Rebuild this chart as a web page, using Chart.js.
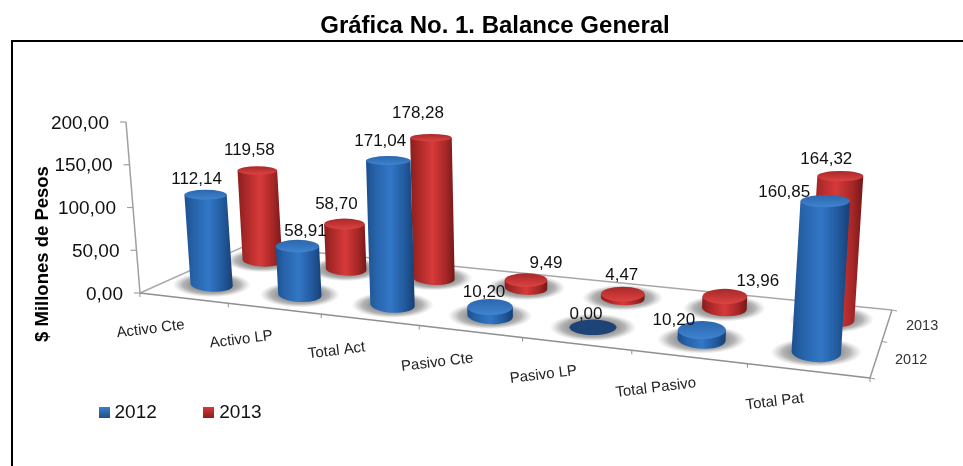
<!DOCTYPE html>
<html><head><meta charset="utf-8">
<style>html,body{margin:0;padding:0;background:#fff}#w{width:963px;height:466px}</style>
<script src="https://cdn.jsdelivr.net/npm/chart.js@4/dist/chart.umd.js"></script>
</head><body><div id="w"><canvas id="c" width="963" height="466"></canvas></div>
<script>
const CATEGORIES = ['Activo Cte','Activo LP','Total Act','Pasivo Cte','Pasivo LP','Total Pasivo','Total Pat'];
const SERIES_NAMES = ['2012','2013'];
const VALUES_2012 = [112.14,58.91,171.04,10.20,0.00,10.20,160.85];
const VALUES_2013 = [119.58,58.70,178.28,9.49,4.47,13.96,164.32];
const Y_TITLE = '$ Millones de Pesos';
const TITLE = 'Gráfica No. 1. Balance General';

// depth position of each series on the floor (0 front, 1 back)
const DEPTH = [0.25,0.75];
// floor quad: front-left, front-right, back-right, back-left
const Q = [[140,293],[870,378],[892,310],[246,245.6]];
const AXIS_TOP = [126,122];
const VP = [535,5100];
const BAR_SCALE = 164;
const RADIUS = 21.6;
// label nudges from the top of each cylinder
const NUDGE_2012 = [[-9,-15],[8,-15],[-8,-19],[-6,-15],[-7,-13],[-28,-10],[-41,-9]];
const NUDGE_2013 = [[-8,-20],[-8,-20],[-13,-24],[20,-17],[-1,-19],[33,-15],[-14,-17]];

const fmt = v => v.toFixed(2).replace('.',',');
const FONT = "'Liberation Sans', Arial, sans-serif";
Chart.defaults.font.family = FONT;

const H = (() => {
  const [p0,p1,p2,p3] = Q;
  const dx1=p1[0]-p2[0], dx2=p3[0]-p2[0], sx=p0[0]-p1[0]+p2[0]-p3[0];
  const dy1=p1[1]-p2[1], dy2=p3[1]-p2[1], sy=p0[1]-p1[1]+p2[1]-p3[1];
  const det=dx1*dy2-dx2*dy1;
  const g=(sx*dy2-dx2*sy)/det, h=(dx1*sy-sx*dy1)/det;
  return {g,h,a:p1[0]-p0[0]+g*p1[0],b:p3[0]-p0[0]+h*p3[0],c:p0[0],d:p1[1]-p0[1]+g*p1[1],e:p3[1]-p0[1]+h*p3[1],f:p0[1]};
})();
function floorPt(u,v){
  const w=H.g*u+H.h*v+1;
  return {x:(H.a*u+H.b*v+H.c)/w,y:(H.d*u+H.e*v+H.f)/w,w};
}
function line(ctx,a,b,col,lw){ctx.strokeStyle=col;ctx.lineWidth=lw;ctx.beginPath();ctx.moveTo(a.x,a.y);ctx.lineTo(b.x,b.y);ctx.stroke();}
function text(ctx,s,x,y,font,col,align,rot){
  ctx.save();ctx.translate(x,y);if(rot)ctx.rotate(rot);ctx.font=font;ctx.fillStyle=col;ctx.textAlign=align||'center';ctx.textBaseline='middle';ctx.fillText(s,0,0);ctx.restore();
}
const PAL = [
 {side:[[0,'#1b4f8e'],[.18,'#2662a8'],[.5,'#3277c6'],[.8,'#21599c'],[1,'#173f73']],top:['#2b67ad','#3f83cf'],flat:'#1e4477'},
 {side:[[0,'#8a1e1e'],[.18,'#a92828'],[.5,'#d63a39'],[.8,'#a62727'],[1,'#741818']],top:['#a92828','#dc4342'],flat:'#7a1a1a'}
];
function marker(col1,col2){
  const c=document.createElement('canvas');c.width=11;c.height=11;const x=c.getContext('2d');
  const g=x.createLinearGradient(0,0,0,11);g.addColorStop(0,col2);g.addColorStop(1,col1);x.fillStyle=g;x.fillRect(0,0,11,11);
  return c;
}
const MARKS=[marker('#1f4f8a','#3a7fcb'),marker('#8a1e1e','#d63a39')];

function shadow(ctx,p,r){
  ctx.save();ctx.translate(p.x,p.y);ctx.scale(1,0.32);
  const R=r*1.85;const g=ctx.createRadialGradient(0,0,R*.35,0,0,R);
  g.addColorStop(0,'rgba(60,60,60,.7)');g.addColorStop(.6,'rgba(90,90,90,.45)');g.addColorStop(1,'rgba(140,140,140,0)');
  ctx.fillStyle=g;ctx.beginPath();ctx.arc(0,0,R,0,Math.PI*2);ctx.fill();ctx.restore();
}
function ratio(y){return .24+(y-195)*.001;}
function cylinder(ctx,b,hpx,r,tilt,pal){
  if(hpx<=0.01){
    ctx.fillStyle=pal.flat;ctx.beginPath();ctx.ellipse(b.x,b.y,r,r*.33,0,0,Math.PI*2);ctx.fill();return;
  }
  const lean=(b.x-VP[0])/(VP[1]-b.y)*hpx;
  const t={x:b.x+lean,y:b.y-hpx};
  const ryB=r*ratio(b.y), ryT=r*ratio(t.y);
  const g=ctx.createLinearGradient(Math.min(b.x,t.x)-r,0,Math.max(b.x,t.x)+r,0);
  pal.side.forEach(s=>g.addColorStop(s[0],s[1]));
  ctx.fillStyle=g;ctx.beginPath();
  ctx.moveTo(t.x-r,t.y);
  ctx.lineTo(b.x-r*Math.cos(tilt),b.y-r*Math.sin(tilt));
  ctx.ellipse(b.x,b.y,r,ryB,tilt,Math.PI,0,true);
  ctx.lineTo(t.x+r,t.y);
  ctx.closePath();ctx.fill();
  const tg=ctx.createLinearGradient(0,t.y-ryT,0,t.y+ryT);
  tg.addColorStop(0,pal.top[0]);tg.addColorStop(1,pal.top[1]);
  ctx.fillStyle=tg;ctx.beginPath();ctx.ellipse(t.x,t.y,r,ryT,0,0,Math.PI*2);ctx.fill();
  return t;
}

const scene = {
  id:'scene',
  beforeDatasetDraw(){return false;},
  beforeDraw(chart){
    const {ctx,scales:{x:xs,y:ys}}=chart;
    ctx.save();
    // frame
    ctx.strokeStyle='#000';ctx.lineWidth=2;ctx.beginPath();ctx.moveTo(12,466);ctx.lineTo(12,41);ctx.lineTo(963,41);ctx.stroke();
    // floor
    const fl=floorPt(0,0),fr=floorPt(1,0),br=floorPt(1,1),bl=floorPt(0,1);
    line(ctx,bl,br,'#a8a8a8',1.5);line(ctx,fl,bl,'#a8a8a8',1.5);
    line(ctx,fr,br,'#9a9a9a',1.5);line(ctx,fl,fr,'#8f8f8f',1.5);
    // y axis
    const y0=ys.getPixelForValue(0),span=y0-ys.getPixelForValue(ys.max);
    const at=f=>({x:Q[0][0]+(AXIS_TOP[0]-Q[0][0])*f,y:Q[0][1]+(AXIS_TOP[1]-Q[0][1])*f});
    line(ctx,at(0),at(1),'#a0a0a0',1.5);
    ys.ticks.forEach(t=>{
      const p=at((y0-ys.getPixelForValue(t.value))/span);
      line(ctx,{x:p.x-6,y:p.y},p,'#a0a0a0',1.2);
      text(ctx,t.label,p.x-17,p.y+1.5,'19px '+FONT,'#111','right');
    });
    // y title
    text(ctx,Y_TITLE,43,254,'bold 18.5px '+FONT,'#000','center',-Math.PI/2);
    // x ticks + labels
    const n=chart.data.labels.length;
    for(let i=0;i<=n;i++){const p=floorPt(i/n,0);line(ctx,p,{x:p.x,y:p.y+4},'#8f8f8f',1);}
    chart.data.labels.forEach((l,i)=>{
      const u=(xs.getPixelForValue(i)-xs.left)/xs.width;const p=floorPt(u,0);
      text(ctx,l,p.x-33,p.y+31,'15px '+FONT,'#222','center',-7*Math.PI/180);
    });
    // series ticks + labels
    [0,.5,1].forEach(v=>{const p=floorPt(1,v);line(ctx,p,{x:p.x+5,y:p.y+1},'#9a9a9a',1);});
    chart.data.datasets.forEach((d,k)=>{const p=floorPt(1,DEPTH[k]);text(ctx,d.label,p.x+35,p.y+1,'14.5px '+FONT,'#333');});
    ctx.restore();
  },
  afterDatasetsDraw(chart){
    const {ctx,scales:{x:xs,y:ys}}=chart;
    const y0=ys.getPixelForValue(0),span=y0-ys.getPixelForValue(ys.max);
    const items=[];
    for(const k of [1,0]){
      chart.data.datasets[k].data.forEach((val,i)=>{
        const u=(xs.getPixelForValue(i)-xs.left)/xs.width;
        const b=floorPt(u,DEPTH[k]);
        const r=RADIUS/b.w;
        const e=floorPt(u+.02,DEPTH[k]);
        items.push({k,i,val,b,r,tilt:Math.atan2(e.y-b.y,e.x-b.x)*.5,h:(y0-ys.getPixelForValue(val))/span*BAR_SCALE/b.w});
      });
    }
    ctx.save();
    items.forEach(o=>shadow(ctx,o.b,o.r));
    items.forEach(o=>{o.t=cylinder(ctx,o.b,o.h,o.r,o.tilt,PAL[o.k])||o.b;});
    items.forEach(o=>{
      const nd=(o.k?NUDGE_2013:NUDGE_2012)[o.i];
      text(ctx,fmt(o.val),o.t.x+nd[0],o.t.y+nd[1],'17px '+FONT,'#111');
    });
    ctx.restore();
  }
};

new Chart(document.getElementById('c'),{
  type:'bar',
  data:{labels:CATEGORIES,datasets:[
    {label:SERIES_NAMES[0],data:VALUES_2012,backgroundColor:'#2e6fb8'},
    {label:SERIES_NAMES[1],data:VALUES_2013,backgroundColor:'#c0302f'}
  ]},
  options:{
    responsive:false,animation:false,
    layout:{padding:{left:52,right:25,top:12,bottom:34}},
    scales:{
      x:{display:false,offset:true},
      y:{display:false,min:0,max:200,ticks:{stepSize:50,callback:v=>fmt(v)}}
    },
    plugins:{
      tooltip:{enabled:false},
      title:{display:true,text:TITLE,color:'#000',font:{size:24,weight:'bold'},padding:{top:0,bottom:0}},
      legend:{position:'bottom',align:'start',labels:{
        color:'#111',font:{size:19},usePointStyle:true,pointStyleWidth:2,padding:51,
        generateLabels:c=>c.data.datasets.map((d,i)=>({text:d.label,pointStyle:MARKS[i],datasetIndex:i,fontColor:'#111',lineWidth:0,strokeStyle:'transparent',fillStyle:d.backgroundColor}))
      }}
    }
  },
  plugins:[scene]
});
</script></body></html>
